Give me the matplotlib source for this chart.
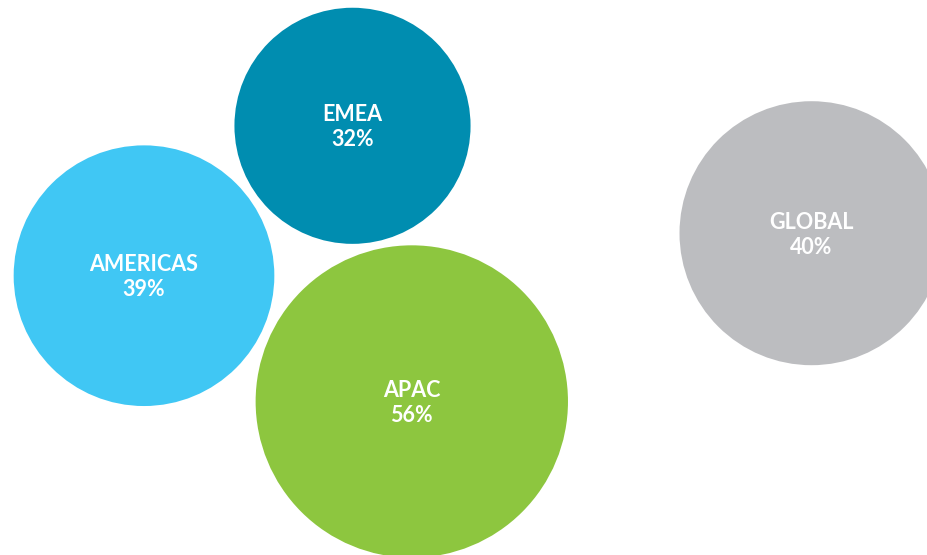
import numpy as np
import matplotlib
matplotlib.use("Agg")
import matplotlib.pyplot as plt
from matplotlib.patches import Circle

# Share of respondents by region
regions = ["EMEA", "AMERICAS", "APAC", "GLOBAL"]
values = [32, 39, 56, 40]
colors = ["#008DB0", "#40C7F4", "#8DC63F", "#BCBDC0"]

# Bubble layout (canvas pixel units, y pointing down)
centers_x = [352.5, 144.0, 411.8, 811.5]
centers_y = [125.8, 275.7, 401.5, 233.2]
scale = 20.87  # radius = scale * sqrt(value): bubble area proportional to value

W, H = 928, 555
fig = plt.figure(figsize=(W / 100, H / 100), dpi=100)
ax = fig.add_axes([0, 0, 1, 1])
ax.set_xlim(0, W)
ax.set_ylim(H, 0)
ax.set_aspect("equal")
ax.axis("off")

font = dict(ha="center", va="center", color="white", fontsize=15.5,
            fontweight="bold", family=["Lato", "DejaVu Sans"])

for name, v, c, cx, cy in zip(regions, values, colors, centers_x, centers_y):
    r = scale * np.sqrt(v)
    ax.add_patch(Circle((cx, cy), r, facecolor=c, edgecolor="none"))
    ax.text(cx, cy - 11.0, name, **font)
    ax.text(cx, cy + 14.0, f"{v}%", **font)

fig.savefig("out.png", dpi=100, facecolor="white")
